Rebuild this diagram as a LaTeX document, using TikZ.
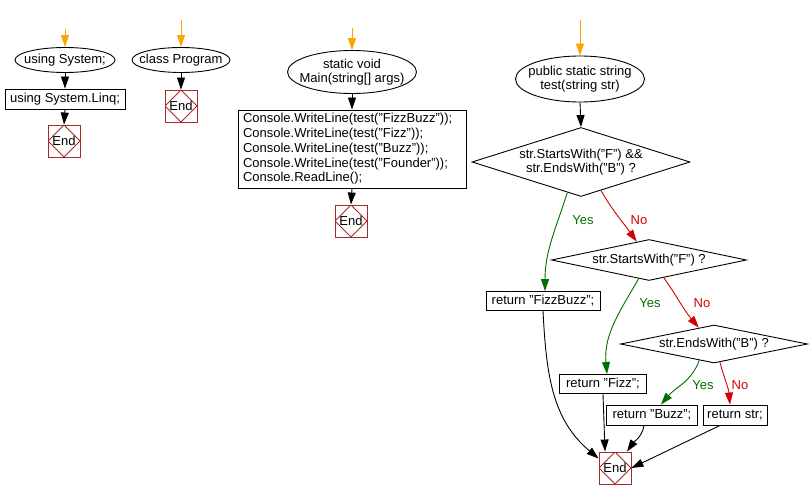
\documentclass[tikz,border=0pt]{standalone}
\usepackage{fontspec}
\setmainfont{Liberation Sans}
\usepackage{tikz}
\usetikzlibrary{shapes.geometric,arrows.meta}
\definecolor{entryorange}{RGB}{255,165,0}
\definecolor{yesgreen}{RGB}{0,110,0}
\definecolor{nored}{RGB}{210,0,0}
\definecolor{endred}{RGB}{165,42,42}
\begin{document}
\begin{tikzpicture}[x=1pt,y=-1pt,
    every node/.style={font=\fontsize{13}{14.7}\selectfont},
    flow/.style={line width=0.9pt,-{Triangle[width=8pt,length=12pt]}},
    entry/.style={flow,draw=entryorange},
    yesline/.style={flow,draw=yesgreen},
    noline/.style={flow,draw=nored},
    startell/.style={ellipse,draw,line width=0.9pt,inner xsep=-9pt,inner ysep=0pt},
    stmt/.style={rectangle,draw,line width=0.9pt,inner xsep=3pt,inner ysep=0pt},
    cond/.style={diamond,draw,line width=0.9pt,inner sep=-2pt,align=center},
    endbox/.style={rectangle,draw=endred,line width=0.9pt,minimum size=32pt,inner sep=0pt,
        path picture={\draw[endred,line width=0.9pt] (path picture bounding box.north) -- (path picture bounding box.east)
            -- (path picture bounding box.south) -- (path picture bounding box.west) -- cycle;}},
    yeslabel/.style={text=yesgreen},
    nolabel/.style={text=nored}]
    \useasboundingbox (0,0) rectangle (809,500);

    \coordinate (in1) at (65,29);
    \node[startell,minimum width=100pt,minimum height=25pt] (usesys) at (65,60) {using System;};
    \node[stmt,minimum width=120pt,minimum height=20pt] (uselinq) at (65,99) {using System.Linq;};
    \node[endbox] (end1) at (64,141) {End};
    \draw[entry] (in1) -- (usesys.north);
    \draw[flow] (usesys.south) -- (uselinq.north);
    \draw[flow] (uselinq.south) -- (end1.north);

    \coordinate (in2) at (181,20);
    \node[startell,minimum width=98pt,minimum height=25pt] (classprog) at (181,60) {class Program};
    \node[endbox] (end2) at (181,106) {End};
    \draw[entry] (in2) -- (classprog.north);
    \draw[flow] (classprog.south) -- (end2.north);

    \coordinate (in3) at (352,28);
    \node[startell,minimum width=129pt,minimum height=43pt,align=center] (mainell) at (352,72) {static void\\Main(string[] args)};
    \node[stmt,text width=218pt,inner xsep=5pt,minimum height=78pt,align=left] (mainbody) at (352,149)
        {Console.WriteLine(test("FizzBuzz"));\\Console.WriteLine(test("Fizz"));\\Console.WriteLine(test("Buzz"));\\Console.WriteLine(test("Founder"));\\Console.ReadLine();};
    \node[endbox] (end3) at (351,221) {End};
    \draw[entry] (in3) -- (mainell.north);
    \draw[flow] (mainell.south) -- (mainbody.north);
    \draw[flow] (mainbody.south) -- (end3.north);

    \coordinate (in4) at (580,20);
    \node[startell,minimum width=129pt,minimum height=46pt,align=center] (testell) at (580,79) {public static string\\test(string str)};
    \node[cond,minimum width=218pt,minimum height=69pt,aspect=3.16] (cond1) at (581,162) {str.StartsWith("F") \&\&\\str.EndsWith("B") ?};
    \node[cond,minimum width=195pt,minimum height=41pt,aspect=4.76] (cond2) at (649,260) {str.StartsWith("F") ?};
    \node[cond,minimum width=187pt,minimum height=38pt,aspect=4.9] (cond3) at (714,344) {str.EndsWith("B") ?};
    \node[stmt,minimum width=114pt,minimum height=19pt] (retfb) at (543,301) {return "FizzBuzz";};
    \node[stmt,minimum width=87pt,minimum height=19pt] (retfizz) at (603,384) {return "Fizz";};
    \node[stmt,minimum width=91pt,minimum height=20pt] (retbuzz) at (652,415) {return "Buzz";};
    \node[stmt,minimum width=64pt,minimum height=20pt] (retstr) at (735,415) {return str;};
    \node[endbox] (end4) at (615,468) {End};

    \draw[entry] (in4) -- (testell.north);
    \draw[flow] (testell.south) -- (cond1.north);
    \draw[yesline] (cond1.246) to[out=252,in=90] ([xshift=2pt]retfb.north);
    \draw[noline] (cond1.-55) to[out=-60,in=125] (cond2.124);
    \draw[yesline] (cond2.241) to[out=240,in=95] ([xshift=4pt]retfizz.north);
    \draw[noline] (cond2.-50) to[out=-55,in=130] (cond3.133);
    \draw[yesline] (cond3.228) to[out=250,in=50] ([xshift=9pt]retbuzz.north);
    \draw[noline] (cond3.-72) to[out=-75,in=95] ([xshift=-5pt]retstr.north);
    \draw[flow] (retfb.south) to[out=-87,in=140] (end4.150);
    \draw[flow] (retfizz.south) -- ([xshift=-10pt]end4.north);
    \draw[flow] ([xshift=-8pt]retbuzz.south) to[out=-100,in=55] ([xshift=12pt]end4.north);
    \draw[flow] ([xshift=-15pt]retstr.south) -- (end4.east);

    \node[yeslabel] (yes1) at (583,220) {Yes};
    \node[nolabel] (no1) at (639,220) {No};
    \node[yeslabel] (yes2) at (650,303) {Yes};
    \node[nolabel] (no2) at (702,303) {No};
    \node[yeslabel] (yes3) at (703,385) {Yes};
    \node[nolabel] (no3) at (740,385) {No};
\end{tikzpicture}
\end{document}
